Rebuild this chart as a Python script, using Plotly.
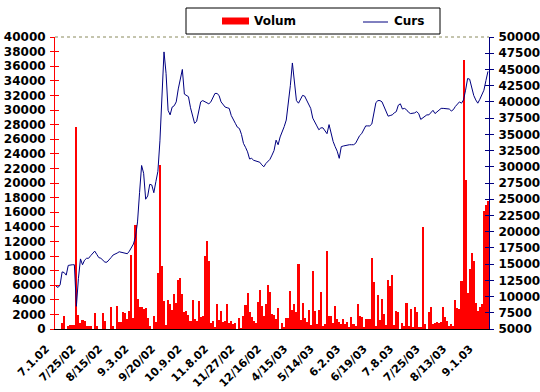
import plotly.graph_objects as go

# ---------------- data ----------------
tick_labels = ["7.1.02", "7/25/02", "8/15/02", "9.3.02", "9/20/02", "10.9.02",
               "11.8.02", "11/27/02", "12/16/02", "4/15/03", "5/14/03", "6.2.03",
               "6/19/03", "7.8.03", "7/25/03", "8/13/03", "9.1.03"]
tick_step = 13

volum = [
    0, 0, 0, 870, 1780, 0, 460, 600, 600, 600,
    27700, 1960, 870, 1190, 1100, 370, 460, 460, 0, 2240,
    370, 0, 0, 2240, 1050, 0, 0, 3020, 410, 0,
    3150, 960, 960, 2380, 2150, 1420, 2470, 10200, 1510, 14200,
    4070, 2970,
    3020, 2790, 2880, 1510, 370, 0, 1780, 960, 7720, 22500,
    8680, 3840, 500, 3980, 3470, 2650, 4800, 3610, 6670, 6990,
    4800, 2330, 2420, 1870, 1140, 3980, 1420, 1140, 3840, 1690,
    1780, 10000, 12070, 9280, 870, 1100, 270, 3430, 1190, 2510,
    960, 1050,
    3430, 870, 1100, 730, 870, 0, 1510, 90, 1780, 3290,
    4940, 2330, 1650, 1050, 870, 3700, 5350, 3150, 1780, 3430,
    6030, 5070, 2060, 1960, 1370, 2880, 0, 820, 140, 1510,
    1510, 5210, 2600, 3430, 2330, 8910, 1230, 3610, 1510, 960,
    2600, 590, 8000,
    2470, 690, 2600, 5070, 410, 690, 10700, 1780, 1780, 820,
    3150, 1370, 960, 690, 1370, 690, 960, 140, 1650, 690,
    410, 3430, 1780, 1650, 140, 1370, 1370, 1370, 9730, 6440,
    410, 4660, 1230, 4110, 2060, 550, 6720, 5900, 7400, 550,
    2470,
    2330, 0, 820, 410, 3560, 410, 2740, 140, 3020, 2330,
    140, 140, 14000, 690, 0, 2330, 3020, 690, 820, 960,
    820, 960, 3020, 1650, 1100, 410, 690, 410, 3980, 2880,
    2740, 6580, 36900, 20400, 4940, 8230, 10400, 9320, 3560, 2470,
    3020, 3430, 16220, 17000, 17600,
]

curs = [
    11600, 11400, 11800, 13800, 13700, 13300, 14800, 14900, 14900, 14900,
    8500, 12800, 15800, 14900, 15600, 15900, 15900, 16300, 16700, 17000,
    16500, 16000, 15900, 15600, 15300, 15300, 15600, 16000, 16400, 16500,
    16700, 16900, 16800, 16700, 16700, 16600, 17000, 17500, 18100, 19200,
    21500, 26000, 30200, 29000, 25000, 25500, 27300, 27200, 26000, 27700,
    29300, 34000, 41000, 47700, 44400, 38700, 38000, 39200, 39400, 40000,
    42000, 43800, 45000, 41200, 41000, 40800, 39100, 37900, 36700, 37000,
    38700, 40000, 40200, 40000, 39800, 39700, 40000, 40600, 41300, 41300,
    41000, 40000, 39500, 39200, 39100, 39000, 37900, 37200, 36700, 36100,
    35900, 35000, 33600, 33000, 32300, 31200, 31300, 31000, 30900, 30900,
    30700, 30300, 30000, 30500, 30900, 31150, 31800, 32500, 34100, 33400,
    34600, 35300, 36200, 37200, 39800, 42500, 46000, 43500, 40200, 39800,
    40500, 41000, 40900, 40300, 39500, 39000, 37500, 36800, 36300, 35700,
    36000, 36000, 35600, 35100, 36500, 35000, 33900, 33100, 32400, 31300,
    33100, 33200, 33300, 33400, 33400, 33400, 33400, 33600, 34200, 34800,
    35100, 35600, 36300, 36300, 36300, 36600, 38500, 39900, 40200, 40200,
    40000, 39300, 38400, 37800, 37900, 38000, 38300, 38500, 39500, 39700,
    38900, 39000, 38800, 38400, 38200, 38200, 38300, 38500, 38200, 37300,
    37500, 37700, 38000, 38000, 38400, 38700, 38200, 38500, 38800, 39000,
    39000, 39000, 39000, 38900, 38600, 38800, 39300, 39600, 40000, 39800,
    40300, 41800, 43600, 43500, 42300, 41000, 40300, 39800, 40400, 41000,
    41800, 43300, 44700,
]

left_range = [0, 40000]
left_step = 2000
right_range = [5000, 50000]
right_step = 2500

# ---------------- figure ----------------
N = len(volum)
xs = list(range(N))
tickvals = list(range(0, N, tick_step))[:len(tick_labels)]

W, H = 540, 392
ML, MR, MT, MB = 55, 51, 37, 63
PW, PH = W - ML - MR, H - MT - MB

FONT = "DejaVu Sans"
RED = "#FF0000"
NAVY = "#000080"

fig = go.Figure()
fig.add_trace(go.Bar(x=xs, y=volum, name="Volum", marker=dict(color=RED, line=dict(width=0)),
                     yaxis="y", showlegend=False))
fig.add_trace(go.Scatter(x=xs, y=curs, name="Curs", mode="lines",
                         line=dict(color=NAVY, width=1), yaxis="y2", showlegend=False))
# helper traces so the overlay tick axes get drawn (crossing tick marks)
fig.add_trace(go.Scatter(x=[0], y=[left_range[0]], yaxis="y3", mode="markers",
                         marker=dict(opacity=0), showlegend=False, hoverinfo="skip"))
fig.add_trace(go.Scatter(x=[0], y=[right_range[0]], yaxis="y4", mode="markers",
                         marker=dict(opacity=0), showlegend=False, hoverinfo="skip"))

tickfont = dict(family=FONT, size=12, color="black", weight="bold")
xtickfont = dict(family=FONT, size=11, color="black", weight="bold")

fig.update_layout(
    width=W, height=H,
    margin=dict(l=ML, r=MR, t=MT, b=MB, pad=0, autoexpand=False),
    paper_bgcolor="white", plot_bgcolor="white",
    bargap=0,
    showlegend=False,
    xaxis=dict(range=[-0.5, N - 0.5], tickmode="array", tickvals=tickvals, ticktext=tick_labels,
               tickangle=-45, tickfont=xtickfont, showgrid=False, zeroline=False,
               showline=True, linecolor="black", linewidth=1, ticks="", automargin=False,
               ticklabelstandoff=8, ticklabelshift=-10, ticklabeloverflow="allow"),
    yaxis=dict(range=left_range, dtick=left_step, tick0=0, side="left", showgrid=False,
               zeroline=False, showline=True, linecolor=RED, linewidth=1, tickformat="d",
               ticks="outside", ticklen=4, tickcolor=RED, tickwidth=1, tickfont=tickfont,
               ticklabelstandoff=2, automargin=False, ticklabeloverflow="allow"),
    yaxis2=dict(range=right_range, dtick=right_step, tick0=right_range[0], side="right",
                overlaying="y", anchor="x", showgrid=False, zeroline=False, showline=True,
                linecolor=NAVY, linewidth=1, ticks="outside", ticklen=4, tickcolor=NAVY,
                tickwidth=1, tickfont=tickfont, tickformat="d", ticklabelstandoff=2,
                automargin=False, ticklabeloverflow="allow"),
    yaxis3=dict(range=left_range, dtick=left_step, tick0=0, side="left", overlaying="y",
                anchor="x", showgrid=False, zeroline=False, showline=False, automargin=False,
                ticks="inside", ticklen=4, tickcolor=RED, tickwidth=1, showticklabels=False),
    yaxis4=dict(range=right_range, dtick=right_step, tick0=right_range[0], side="right",
                overlaying="y", anchor="x", showgrid=False, zeroline=False, showline=False,
                automargin=False,
                ticks="inside", ticklen=4, tickcolor=NAVY, tickwidth=1, showticklabels=False),
)


def px(x):
    return (x - ML) / PW


def py(y):
    return (H - MB - y) / PH


shapes = [
    # dotted top border of plot area
    dict(type="line", xref="paper", yref="paper", x0=0, x1=1, y0=1, y1=1,
         line=dict(color="#8a8a5c", width=1, dash="dot"), layer="above"),
    # legend box
    dict(type="rect", xref="paper", yref="paper", x0=px(186), x1=px(440), y0=py(34), y1=py(8),
         line=dict(color="black", width=1), fillcolor="white"),
    # Volum swatch
    dict(type="rect", xref="paper", yref="paper", x0=px(222), x1=px(249), y0=py(24.5), y1=py(17.5),
         line=dict(width=0), fillcolor=RED),
    # Curs swatch
    dict(type="line", xref="paper", yref="paper", x0=px(363), x1=px(388), y0=py(22), y1=py(22),
         line=dict(color=NAVY, width=1)),
]
fig.update_layout(shapes=shapes)

legfont = dict(family=FONT, size=12, color="black", weight="bold")
fig.add_annotation(xref="paper", yref="paper", x=px(252), y=py(21), text="Volum", showarrow=False,
                   xanchor="left", yanchor="middle", font=legfont)
fig.add_annotation(xref="paper", yref="paper", x=px(392), y=py(21), text="Curs", showarrow=False,
                   xanchor="left", yanchor="middle", font=legfont)

fig.write_html(
    "out.html",
    config={"displayModeBar": False},
    post_script="document.body.style.margin='0';document.body.style.overflow='hidden';",
)
